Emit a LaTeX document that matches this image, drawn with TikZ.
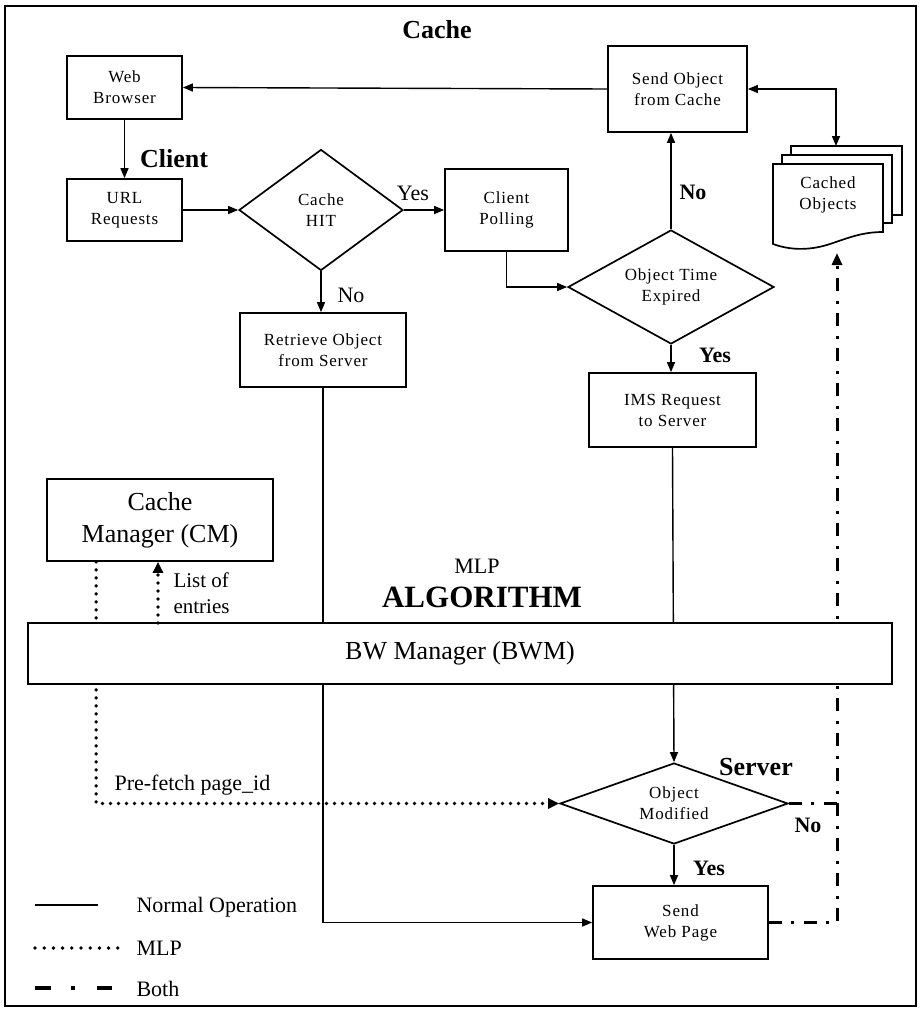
\documentclass[tikz,border=0pt]{standalone}
\usepackage{fontspec}
\setmainfont{Liberation Serif}
\newfontfamily\boxfont[LetterSpace=5]{Liberation Serif}
\usetikzlibrary{shapes.geometric,arrows.meta}
\begin{document}
\begin{tikzpicture}[x=1pt,y=-1pt,
  box/.style={draw,line width=1.7pt,fill=white,align=center,inner sep=0pt,font=\boxfont\fontsize{17}{21}\selectfont},
  dia/.style={draw,diamond,line width=1.7pt,fill=white,align=center,inner sep=0pt,font=\boxfont\fontsize{17}{21}\selectfont},
  bigbox/.style={draw,line width=1.7pt,fill=white,align=center,inner sep=0pt,font=\fontsize{26}{32}\selectfont},
  conn/.style={line width=1.4pt},
  tip/.style={-{Triangle[length=10pt,width=8pt]}},
  mlp/.style={line width=3.8pt,dash pattern=on 0pt off 8pt,line cap=round},
  both/.style={line width=3pt,dash pattern=on 13pt off 9pt on 3pt off 10pt},
  lbl/.style={font=\fontsize{22}{26}\selectfont},
  blbl/.style={font=\bfseries\fontsize{22}{26}\selectfont},
  title/.style={font=\bfseries\fontsize{26}{30}\selectfont},
]
\useasboundingbox (0,0) rectangle (919,1012);
\draw[line width=1.6pt] (5,6) rectangle (916,1006);

% titles
\node[title] (tcache) at (437,30) {Cache};
\node[title] (tclient) at (174,159) {Client};
\node[title] (tserver) at (756,767) {Server};
\node[font=\fontsize{22}{26}\selectfont] (tmlp) at (477,566) {MLP};
\node[font=\bfseries\fontsize{31}{36}\selectfont] (talg) at (482,597) {ALGORITHM};

% boxes
\node[box,minimum width=115pt,minimum height=63pt] (web) at (124.5,87.5) {Web\\Browser};
\node[box,minimum width=115pt,minimum height=62pt] (url) at (124.5,210) {URL\\Requests};
\node[dia,minimum width=164pt,minimum height=121pt,aspect=1.36] (hit) at (321,210) {Cache\\HIT};
\node[box,minimum width=123pt,minimum height=82pt] (poll) at (506.5,210) {Client\\Polling};
\node[box,minimum width=166pt,minimum height=74pt] (retr) at (323,350) {Retrieve Object\\from Server};
\node[box,minimum width=139pt,minimum height=86pt] (send) at (677.5,89) {Send Object\\from Cache};
\node[dia,minimum width=206pt,minimum height=114pt,aspect=1.8] (ote) at (671,287) {Object Time\\Expired};
\node[box,minimum width=167pt,minimum height=74pt] (ims) at (672.5,410) {IMS Request\\to Server};
\node[bigbox,minimum width=226pt,minimum height=82pt] (cm) at (160,520) {Cache\\Manager (CM)};
\node[dia,minimum width=228pt,minimum height=81pt,aspect=2.8] (om) at (674,803.5) {Object\\Modified};
\node[box,minimum width=175pt,minimum height=73pt] (swp) at (680.5,922.5) {Send\\Web Page};

% cached objects (multi-document)
\draw[line width=1.7pt,fill=white] (791,146) rectangle (902,215);
\draw[line width=1.7pt,fill=white] (782,155) rectangle (892,223);
\draw[line width=1.7pt,fill=white] (773,244) -- (773,164) -- (883,164) -- (883,232)
   .. controls (862,232) and (848,238) .. (830,244)
   .. controls (812,250) and (792,251) .. (773,244) -- cycle;
\node[font=\boxfont\fontsize{17}{21}\selectfont,align=center] (cachedtxt) at (828,195) {Cached\\Objects};
\coordinate (cachedtop) at (836,146);
\coordinate (cachedbot) at (837,253);

% normal connectors
\draw[conn,tip] (web.south) -- (url.north);
\draw[conn,tip] (url.east) -- (hit.west);
\draw[conn,tip] (hit.east) -- (poll.west);
\draw[conn,tip] (hit.south) -- (hit.south |- retr.north);
\draw[conn,tip] (send.west) -- (web.east);
\draw[conn,{Triangle[length=10pt,width=8pt]}-{Triangle[length=10pt,width=8pt]}] (send.east) -| (cachedtop);
\draw[conn,tip] (poll.south) |- (ote.west);
\draw[conn,tip] (ote.north) -- (ote.north |- send.south);
\draw[conn,tip] (ote.south) -- (ote.south |- ims.north);
\draw[conn,tip] (retr.south) |- (swp.west);
\draw[conn,tip] (ims.south) -- (om.north);
\draw[conn,tip] (om.south) -- (om.south |- swp.north);

% both
\draw[both,-{Triangle[length=12pt,width=10pt]}] (swp.east) -- (swp.east -| cachedbot) -- (cachedbot);
\draw[both] (om.east) -- (om.east -| cachedbot);

% MLP down
\draw[mlp,-{Triangle[length=11pt,width=10pt]}] ([xshift=50pt]cm.south west) |- (om.west);

% BW manager on top
\node[bigbox,minimum width=864pt,minimum height=61pt] (bwm) at (460,653.5) {BW Manager (BWM)};

\coordinate (lo) at (158,623);
\draw[mlp,-{Triangle[length=11pt,width=10pt]}] (lo) -- (lo |- cm.south);

% labels
\node[lbl] (lyes1) at (413,193) {Yes};
\node[lbl] (lno1) at (351,295) {No};
\node[blbl] (lno2) at (693,192) {No};
\node[blbl] (lyes2) at (715,355) {Yes};
\node[blbl] (lno3) at (808,825) {No};
\node[blbl] (lyes3) at (709,868) {Yes};
\node[font=\fontsize{21}{26}\selectfont,anchor=west,align=left] (llist) at (170,593) {List of\\entries};
\node[lbl,anchor=west] (lpre) at (111,785) {Pre-fetch page\_id};

% legend
\coordinate (g1a) at (35,905); \coordinate (g1b) at (98,905);
\coordinate (g2a) at (35,948); \coordinate (g2b) at (118,948);
\coordinate (g3a) at (35,988); \coordinate (g3b) at (112,988);
\draw[conn] (g1a) -- (g1b);
\draw[mlp,dash pattern=on 0pt off 9.2pt] (g2a) -- (g2b);
\draw[line width=4pt,dash pattern=on 16pt off 20pt on 4pt off 22pt] (g3a) -- (g3b);
\node[lbl,anchor=west] (leg1) at (133,907) {Normal Operation};
\node[lbl,anchor=west] (leg2) at (133,948) {MLP};
\node[lbl,anchor=west] (leg3) at (133,989) {Both};
\end{tikzpicture}
\end{document}
